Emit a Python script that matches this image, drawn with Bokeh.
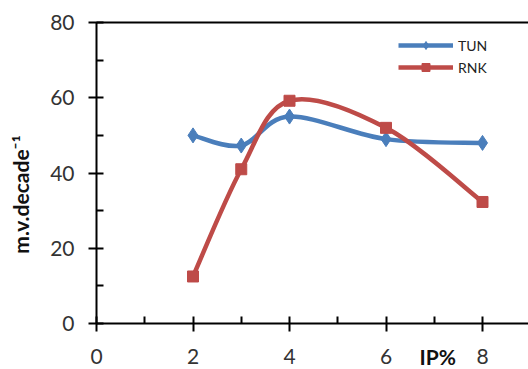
import math
from bokeh.plotting import figure
from bokeh.models import (FixedTicker, Label, Legend, LegendItem, Range1d,
                          ColumnDataSource, LinearAxis)
from bokeh.embed import file_html
from bokeh.resources import INLINE

# data
ip = [2, 3, 4, 6, 8]
tun = [50, 47.3, 55, 49, 48]
rnk = [12.5, 41, 59.2, 52, 32.3]
x_ticks = [0, 2, 4, 6, 8]
y_ticks = [0, 20, 40, 60, 80]

BLUE = "#4A7EBB"
RED = "#BE4B48"
FONT = "Lato"

W, H = 528, 369
FL, FT, FB = 96, 22, 323          # axis positions on the page
XPX = 48.25                        # px per x unit
YPX = (FB - FT) / 80.0             # px per y unit
x0 = -FL / XPX
x1 = (W - FL) / XPX
y0 = -(H - FB) / YPX
y1 = 80 + FT / YPX

p = figure(width=W, height=H, output_backend="svg", toolbar_location=None,
           x_range=Range1d(x0, x1), y_range=Range1d(y0, y1),
           min_border_left=0, min_border_right=0, min_border_top=0,
           min_border_bottom=0)
p.outline_line_color = None
p.grid.visible = False
p.background_fill_color = "white"
p.border_fill_color = "white"


def bezier_src(xs, ys, t=1.0 / 6):
    n = len(xs)
    d = dict(x0=[], y0=[], x1=[], y1=[], cx0=[], cy0=[], cx1=[], cy1=[])
    for i in range(n - 1):
        xp, yp = (xs[i - 1], ys[i - 1]) if i > 0 else (xs[i], ys[i])
        xn, yn = (xs[i + 2], ys[i + 2]) if i + 2 < n else (xs[i + 1], ys[i + 1])
        d["x0"].append(xs[i]); d["y0"].append(ys[i])
        d["x1"].append(xs[i + 1]); d["y1"].append(ys[i + 1])
        d["cx0"].append(xs[i] + (xs[i + 1] - xp) * t)
        d["cy0"].append(ys[i] + (ys[i + 1] - yp) * t)
        d["cx1"].append(xs[i + 1] - (xn - xs[i]) * t)
        d["cy1"].append(ys[i + 1] - (yn - ys[i]) * t)
    return ColumnDataSource(d)


b_tun = p.bezier(x0="x0", y0="y0", x1="x1", y1="y1", cx0="cx0", cy0="cy0",
                 cx1="cx1", cy1="cy1", source=bezier_src(ip, tun),
                 line_color=BLUE, line_width=4.5)
b_rnk = p.bezier(x0="x0", y0="y0", x1="x1", y1="y1", cx0="cx0", cy0="cy0",
                 cx1="cx1", cy1="cy1", source=bezier_src(ip, rnk),
                 line_color=RED, line_width=4.5)
s_tun = p.scatter(ip, tun, marker="diamond", size=15, color=BLUE)
s_rnk = p.scatter(ip, rnk, marker="square", size=11, color=RED)

legend = Legend(items=[LegendItem(label="TUN", renderers=[b_tun, s_tun]),
                       LegendItem(label="RNK", renderers=[b_rnk, s_rnk])],
                location=(398, H - 77), padding=0, margin=0, spacing=2,
                glyph_width=55, glyph_height=20, label_height=20,
                label_standoff=5, label_text_font=FONT,
                label_text_font_size="14px", label_text_color="#222222",
                border_line_color=None, background_fill_alpha=0)
p.add_layout(legend)

xa = p.below[0]
ya = p.left[0]
for ax in (xa, ya):
    ax.fixed_location = 0
    ax.axis_line_width = 2
    ax.axis_line_color = "black"
    ax.major_tick_line_width = 2
    ax.minor_tick_line_width = 2
    ax.major_tick_line_color = "black"
    ax.minor_tick_line_color = "black"
    ax.major_tick_out = 8
    ax.major_tick_in = 7
    ax.minor_tick_out = 0
    ax.minor_tick_in = 7
    ax.major_label_text_font = FONT
    ax.major_label_text_font_size = "21px"
    ax.major_label_text_color = "#333333"

xa.bounds = (0, x1)
ya.bounds = (0, 80)
xa.ticker = FixedTicker(ticks=x_ticks, minor_ticks=[1, 3, 5, 7])
ya.ticker = FixedTicker(ticks=y_ticks, minor_ticks=[10, 30, 50, 70])
xa.major_label_standoff = 17
ya.major_label_standoff = 14

# top border of the plot area
top = LinearAxis(fixed_location=80, bounds=(0, x1),
                 ticker=FixedTicker(ticks=[], minor_ticks=[]),
                 major_tick_line_color=None, minor_tick_line_color=None,
                 axis_line_width=2, axis_line_color="black")
p.add_layout(top, "above")

p.add_layout(Label(x=(20 - FL) / XPX, y=(FB - 194) / YPX,
                   text="m.v.decade\u207b\u00b9", angle=math.pi / 2,
                   text_font=FONT, text_font_style="bold",
                   text_font_size="21px", text_align="center",
                   text_baseline="middle", text_color="#111111"))

p.add_layout(Label(x=7.07, y=-(343 - FB) / YPX, text="IP%",
                   text_font=FONT, text_font_style="bold",
                   text_font_size="21px", text_align="center",
                   text_baseline="top", text_color="#111111"))

open("out.html", "w").write(file_html(p, INLINE))
